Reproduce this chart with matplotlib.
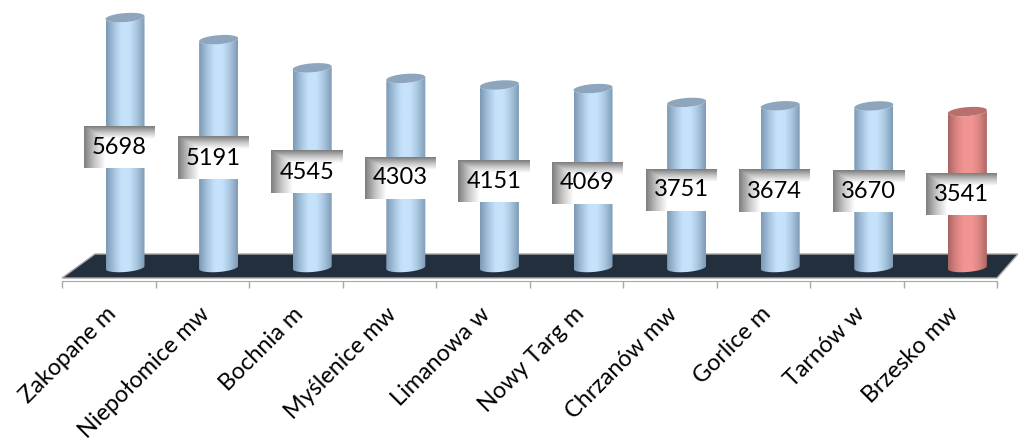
import numpy as np
import matplotlib
matplotlib.use('Agg')
import matplotlib.pyplot as plt
from matplotlib.colors import LinearSegmentedColormap
from matplotlib.patches import Polygon
from matplotlib.transforms import ScaledTranslation

categories = ['Zakopane m', 'Niepołomice mw', 'Bochnia m', 'Myślenice mw', 'Limanowa w',
              'Nowy Targ m', 'Chrzanów mw', 'Gorlice m', 'Tarnów w', 'Brzesko mw']
values = [5698, 5191, 4545, 4303, 4151, 4069, 3751, 3674, 3670, 3541]

plt.rcParams['font.family'] = ['Lato', 'DejaVu Sans']

W, H = 1018, 443
DX = 93.6     # pixels per category
DY = 0.0436   # pixels per unit
X0, Y0 = 125, 266

blue = LinearSegmentedColormap.from_list('b', ['#7d9ab5', '#a5c3de', '#c6e2fb', '#c6e2fb', '#a9c6e0', '#7f9bb5'])
red = LinearSegmentedColormap.from_list('r', ['#a96563', '#d98481', '#f29592', '#f29592', '#d98481', '#a86462'])
box = LinearSegmentedColormap.from_list('g', ['#808080', '#c8c8c8', '#ffffff'])

fig = plt.figure(figsize=(W / 100, H / 100), dpi=100)
ax = fig.add_axes([0, 0, 1, 1])


def px(x, y):
    # picture pixel to data, only used for the decoration
    return (x - X0) / DX, (Y0 - y) / DY


def reset_limits():
    # imshow changes the limits every time
    ax.set_xlim(-X0 / DX, (W - X0) / DX)
    ax.set_ylim((Y0 - H) / DY, Y0 / DY)


# floor
floor = [px(62, 278), px(95, 254), px(1018, 254), px(997, 278)]
ax.add_patch(Polygon(floor, closed=True, fc='#242f3e', ec='#a8a8a8', lw=1.0, zorder=1))

# cylinders
hw = 19.5 / DX
t = np.linspace(0, 2 * np.pi, 80)
lower = np.linspace(np.pi, 2 * np.pi, 40)
bottom = -1.5 / DY


def rim(a):
    return (4.5 * np.sin(a) + 1.5 * np.cos(a)) / DY


for i, v in enumerate(values):
    cmap = red if i == len(values) - 1 else blue
    top_col = '#b96f6d' if i == len(values) - 1 else '#8da5bd'
    # body outline: along the bottom ellipse, back along the front of the top one
    bx = i + hw * np.cos(lower)
    by = bottom + rim(lower)
    tx = i + hw * np.cos(lower[::-1])
    ty = v + rim(lower[::-1])
    body = Polygon(np.column_stack([np.r_[bx, tx], np.r_[by, ty]]), closed=True, fc='none', ec='none', zorder=2)
    ax.add_patch(body)
    grad = np.linspace(0, 1, 64).reshape(1, -1)
    im = ax.imshow(grad, cmap=cmap, aspect='auto', extent=[i - hw, i + hw, bottom - 10 / DY, v + 10 / DY], zorder=2)
    im.set_clip_path(body)
    ax.fill(i + hw * np.cos(t), v + rim(t), fc=top_col, ec='none', zorder=3)

# value boxes
bw = 35.5 / DX
bh = 21 / DY
xs, ys = np.meshgrid(np.linspace(0, 1, 71), np.linspace(0, 1, 42))
shade = np.clip(np.minimum(xs / 0.3, ys / 0.3), 0, 1)
for i, v in enumerate(values):
    cx = i - 5.5 / DX
    cy = v / 2 - 5.5 / DY
    ax.imshow(shade, cmap=box, vmin=0, vmax=1, aspect='auto', origin='upper',
              extent=[cx - bw, cx + bw, cy - bh, cy + bh], zorder=4)
    ax.text(cx, cy, str(v), ha='center', va='center', fontsize=17, color='black', zorder=5)

reset_limits()

# axis
for s in ['top', 'left', 'right']:
    ax.spines[s].set_visible(False)
ax.spines['bottom'].set_position(('data', px(0, 281)[1]))
ax.spines['bottom'].set_bounds(-0.668, 9.316)
ax.spines['bottom'].set_color('#a8a8a8')
ax.set_yticks([])
ax.set_xticks(range(len(categories)))
ax.set_xticklabels(categories, rotation=45, ha='right', rotation_mode='anchor', fontsize=16.8, color='black')
ax.tick_params(axis='x', which='major', length=0, pad=16)
ax.set_xticks(np.linspace(-0.668, 9.316, 11), minor=True)
ax.tick_params(axis='x', which='minor', length=5, width=1, color='#a8a8a8')
ax.patch.set_alpha(0)

shift = ScaledTranslation(-20 / 100, 0, fig.dpi_scale_trans)
for lab in ax.get_xticklabels():
    lab.set_transform(lab.get_transform() + shift)

fig.savefig('out.png', dpi=100)
